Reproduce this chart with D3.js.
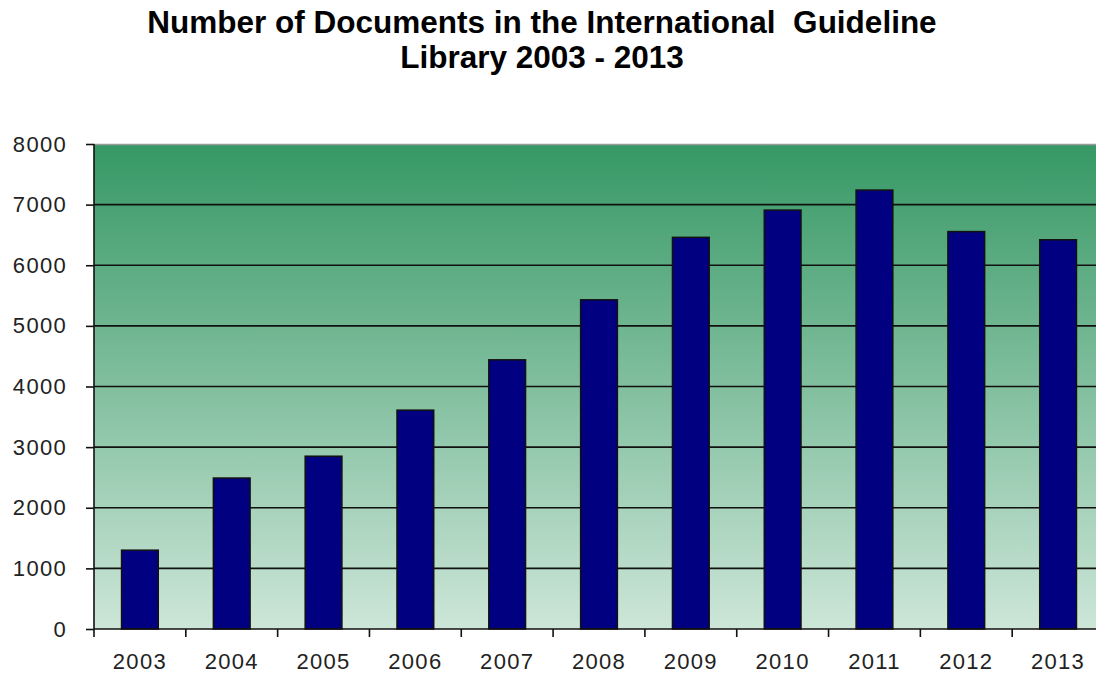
<!DOCTYPE html>
<html>
<head>
<meta charset="utf-8">
<script src="https://cdn.jsdelivr.net/npm/d3@7"></script>
<style>
body { margin: 0; background: #fff; }
svg { display: block; }
</style>
</head>
<body>
<div id="chart"></div>
<script>
var years = ['2003', '2004', '2005', '2006', '2007', '2008', '2009', '2010', '2011', '2012', '2013'];
var documents = [1300, 2490, 2850, 3610, 4440, 5430, 6460, 6910, 7240, 6555, 6420];
var yTicks = [0, 1000, 2000, 3000, 4000, 5000, 6000, 7000, 8000];
var titleLines = ['Number of Documents in the International  Guideline', 'Library 2003 - 2013'];

var width = 1096,
	height = 677;
var plot = {left: 94, right: 1104, top: 144, bottom: 629};

var svg = d3.select('#chart')
		.append('svg')
		.attr('width', width)
		.attr('height', height)
		.style('font-family', 'Liberation Sans, Arial, sans-serif')

// green background gradient
var grad = svg.append('defs').append('linearGradient')
		.attr('id', 'bg')
		.attr('x1', 0).attr('y1', 0).attr('x2', 0).attr('y2', 1)
grad.append('stop').attr('offset', '0%').attr('stop-color', '#369865')
grad.append('stop').attr('offset', '100%').attr('stop-color', '#cde6d8')

var x = d3.scaleBand()
		.domain(years)
		.range([plot.left, plot.right])
		.paddingInner(0.6)
		.paddingOuter(0.3)

var y = d3.scaleLinear()
		.domain([0, 8000])
		.range([plot.bottom, plot.top])

svg.append('rect')
	.attr('x', plot.left)
	.attr('y', plot.top)
	.attr('width', plot.right - plot.left)
	.attr('height', plot.bottom - plot.top)
	.attr('fill', 'url(#bg)')

svg.append('line')
	.attr('x1', plot.left).attr('x2', plot.right)
	.attr('y1', plot.top + 0.5).attr('y2', plot.top + 0.5)
	.attr('stroke', '#9a9a9a')
	.attr('stroke-width', 1.5)

// grid lines
svg.append('g')
	.selectAll('line')
	.data(yTicks.filter(d => d > 0 && d < 8000))
	.enter()
	.append('line')
	.attr('x1', plot.left).attr('x2', plot.right)
	.attr('y1', d => y(d)).attr('y2', d => y(d))
	.attr('stroke', '#111')
	.attr('stroke-width', 1.6)

// bars
svg.append('g')
	.selectAll('rect')
	.data(documents)
	.enter()
	.append('rect')
	.attr('x', (d, i) => x(years[i]))
	.attr('y', d => y(d))
	.attr('width', x.bandwidth())
	.attr('height', d => plot.bottom - y(d))
	.attr('fill', '#000080')
	.attr('stroke', '#111')
	.attr('stroke-width', 1.5)

// y axis
var yAxis = svg.append('g')
		.attr('transform', `translate(${plot.left}, 0)`)
		.call(d3.axisLeft(y).tickValues(yTicks).tickSize(8).tickPadding(19).tickFormat(d3.format('d')))
yAxis.select('.domain').attr('stroke', '#111').attr('stroke-width', 1.6).attr('d', `M0,${plot.top}V${plot.bottom}`)
yAxis.selectAll('.tick line').attr('stroke', '#111').attr('stroke-width', 1.6)
yAxis.selectAll('text')
	.attr('font-size', 22)
	.attr('fill', '#222')
	.attr('letter-spacing', 1.3)
	.style('font-family', 'Liberation Sans, Arial, sans-serif')

// x axis with ticks between categories
var xAxis = svg.append('g')
		.attr('transform', `translate(0, ${plot.bottom})`)
xAxis.append('line')
	.attr('x1', plot.left).attr('x2', plot.right)
	.attr('stroke', '#111')
	.attr('stroke-width', 1.6)
xAxis.selectAll('.sep')
	.data(years)
	.enter()
	.append('line')
	.attr('class', 'sep')
	.attr('x1', d => x(d) - x.step() * x.paddingOuter())
	.attr('x2', d => x(d) - x.step() * x.paddingOuter())
	.attr('y1', 0).attr('y2', 8)
	.attr('stroke', '#111')
	.attr('stroke-width', 1.6)
xAxis.selectAll('text')
	.data(years)
	.enter()
	.append('text')
	.attr('x', d => x(d) + x.bandwidth() / 2)
	.attr('y', 40)
	.attr('text-anchor', 'middle')
	.attr('font-size', 22)
	.attr('letter-spacing', 1.3)
	.attr('fill', '#222')
	.text(d => d)

// title
svg.append('g')
	.selectAll('text')
	.data(titleLines)
	.enter()
	.append('text')
	.attr('x', 542)
	.attr('y', (d, i) => 33 + i * 35)
	.attr('text-anchor', 'middle')
	.attr('font-size', 31.5)
	.attr('font-weight', 'bold')
	.attr('fill', '#000')
	.attr('xml:space', 'preserve')
	.style('white-space', 'pre')
	.text(d => d)
</script>
</body>
</html>
